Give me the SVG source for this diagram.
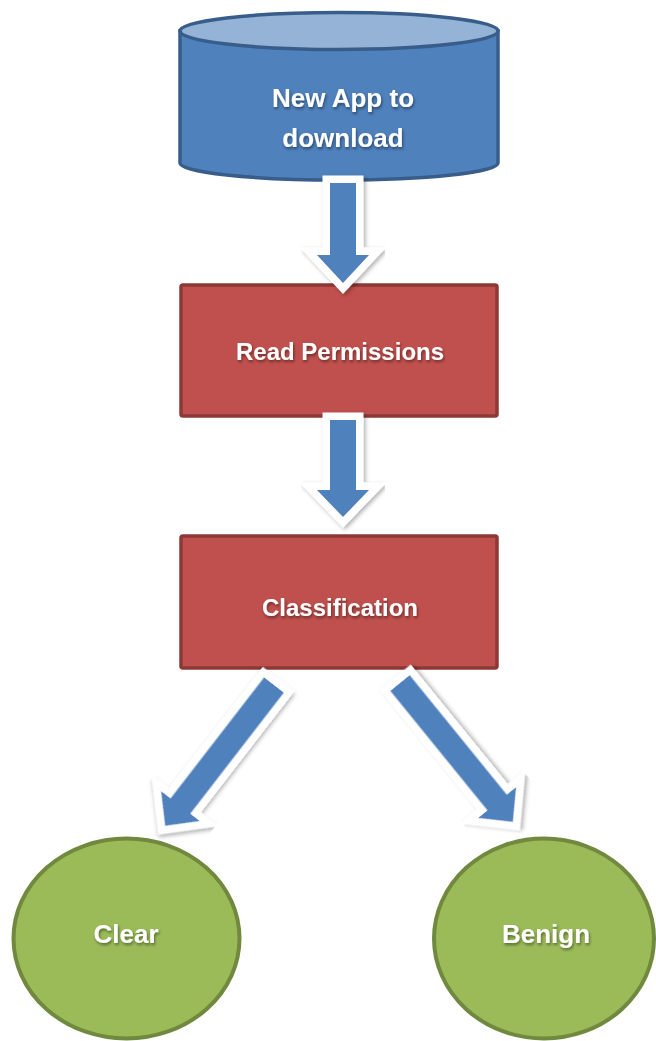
<svg xmlns="http://www.w3.org/2000/svg" width="656" height="1041" viewBox="0 0 656 1041">
  <defs>
    <filter id="ts" x="-10%" y="-30%" width="130%" height="170%">
      <feDropShadow dx="1" dy="2" stdDeviation="1.5" flood-color="#000" flood-opacity="0.45"/>
    </filter>
    <filter id="as" x="-30%" y="-30%" width="160%" height="160%">
      <feDropShadow dx="2" dy="2" stdDeviation="2" flood-color="#000" flood-opacity="0.3"/>
    </filter>
  </defs>
  <style>
    .lbl { font-family: "Liberation Sans", Arial, sans-serif; font-weight: bold; fill: #ffffff; text-anchor: middle; filter: url(#ts); }
    .rect { fill: #c0504d; stroke: #8c3836; stroke-width: 3.5; }
    .circ { fill: #9bbb59; stroke: #71893f; stroke-width: 4; }
    .arrow { fill: #4f81bd; stroke: #ffffff; stroke-width: 15; stroke-linejoin: miter; stroke-miterlimit: 10; paint-order: stroke; filter: url(#as); }
  </style>

  <g id="node-app">
    <path d="M180,31 L180,163 A159,17 0 0 0 498,163 L498,31 Z" fill="#4f81bd" stroke="#385d8a" stroke-width="3.5"/>
    <ellipse cx="339" cy="31" rx="159" ry="18.5" fill="#95b3d7" stroke="#385d8a" stroke-width="3.5"/>
    <text class="lbl" x="343" y="107" font-size="26">New App to</text>
    <text class="lbl" x="343" y="147" font-size="26">download</text>
  </g>

  <g id="node-read">
    <rect class="rect" x="181" y="285" width="316" height="131" rx="2"/>
    <text class="lbl" x="340" y="360" font-size="24">Read Permissions</text>
  </g>

  <g id="node-class">
    <rect class="rect" x="181" y="536" width="316" height="132" rx="2"/>
    <text class="lbl" x="340" y="616" font-size="24">Classification</text>
  </g>

  <g id="node-clear">
    <ellipse class="circ" cx="126.5" cy="938.5" rx="113" ry="100"/>
    <text class="lbl" x="126" y="943" font-size="26">Clear</text>
  </g>

  <g id="node-benign">
    <ellipse class="circ" cx="544" cy="938.5" rx="110" ry="100"/>
    <text class="lbl" x="546" y="943" font-size="26">Benign</text>
  </g>

  <g id="connectors">
    <path class="arrow" transform="translate(343,183)" d="M-13,0 L13,0 L13,72 L26,72 L0,100 L-26,72 L-13,72 Z"/>
    <path class="arrow" transform="translate(343,420)" d="M-13,0 L13,0 L13,70 L26,70 L0,97 L-26,70 L-13,70 Z"/>
    <path class="arrow" transform="translate(274,685) rotate(37.7)" d="M-12.5,0 L12.5,0 L12.5,153 L24.5,153 L0,178 L-24.5,153 L-12.5,153 Z"/>
    <path class="arrow" transform="translate(400,683) rotate(-39.1)" d="M-12.5,0 L12.5,0 L12.5,154 L24.5,154 L0,179 L-24.5,154 L-12.5,154 Z"/>
  </g>
</svg>
